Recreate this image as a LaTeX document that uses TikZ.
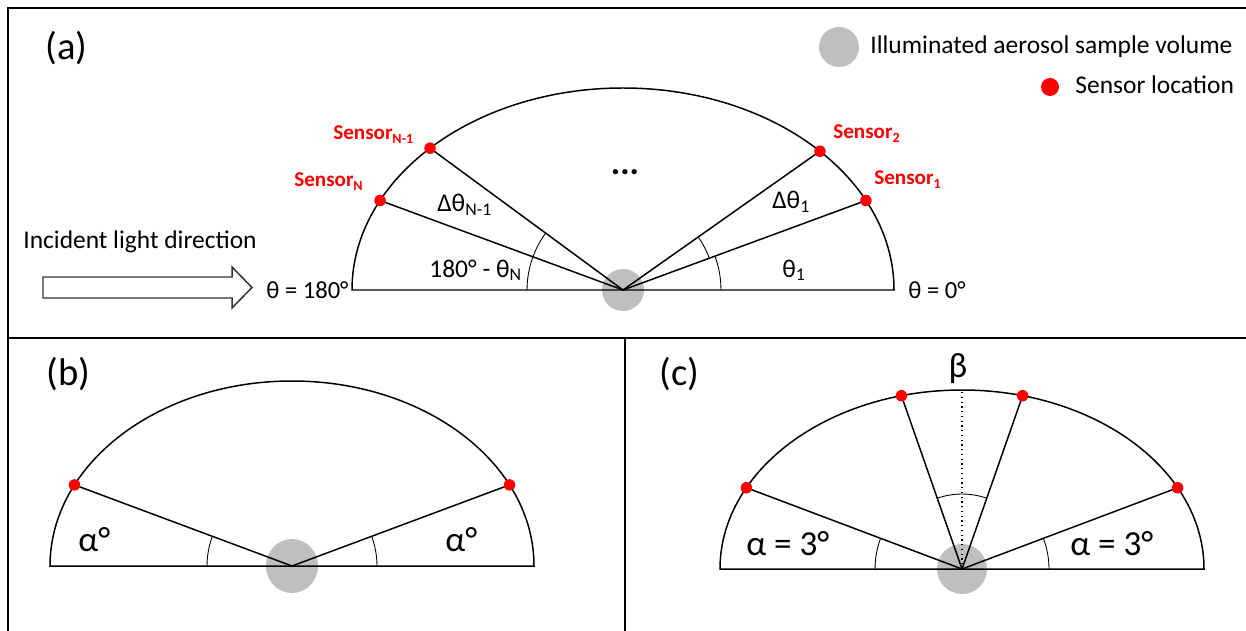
\documentclass[tikz,border=0pt]{standalone}
\usepackage{fontspec}
\setmainfont{Carlito}
\usepackage{xcolor}
\usetikzlibrary{angles}
\definecolor{spot}{HTML}{BFBFBF}
\definecolor{sens}{HTML}{FF0000}

\begin{document}
\begin{tikzpicture}[x=0.02cm, y=0.02cm, font=\fontsize{14.5}{17}\selectfont,
  frame/.style={line width=1.2pt},
  dome/.style={line width=0.85pt},
  ray/.style={line width=0.85pt},
  ang/.style={draw, line width=0.5pt},
  dot/.style={circle, fill=sens, inner sep=0pt, minimum size=0.23cm},
  txt/.style={anchor=base west, inner sep=0pt},
  tag/.style={txt, font=\fontsize{22}{26}\selectfont},
  slab/.style={txt, text=sens, font=\fontsize{12}{14}\selectfont\bfseries},
  big/.style={txt, font=\fontsize{20}{24}\selectfont}]
  \useasboundingbox (0,0) rectangle (1246,-631);
  \draw[frame] (8,-631) -- (8,-8) -- (1246,-8);
  \draw[frame] (8,-338) -- (1246,-338);
  \draw[frame] (625,-338) -- (625,-631);

  % (a) general layout with N sensors
  \node[tag] (taga) at (45,-60) {(a)};
  \node[txt] (inc) at (23,-249) {Incident light direction};
  \draw[black!80, line width=0.85pt] (43,-277) -- (232,-277) -- (232,-267) -- (252,-287.5)
    -- (232,-308) -- (232,-298) -- (43,-298) -- cycle;
  \node[txt, font=\fontsize{14}{17}\selectfont] (t180) at (266,-298) {θ = 180°};
  \node[txt, font=\fontsize{14}{17}\selectfont] (t0) at (908,-298) {θ = 0°};
  \fill[spot] (839,-47) circle[radius=20];
  \node[txt] (lvol) at (870,-54) {Illuminated aerosol sample volume};
  \fill[sens] (1050,-87) circle[radius=9];
  \node[txt] (lsen) at (1075,-94) {Sensor location};
  \begin{scope}[shift={(623,-290)}]
    \coordinate (ca) at (0,0);
    \coordinate (aR) at (271,0);
    \coordinate (aL) at (-271,0);
    \coordinate (a1) at (26.3:271 and 202);
    \coordinate (a2) at (43.4:271 and 202);
    \coordinate (aN1) at (135.4:271 and 202);
    \coordinate (aN) at (153.7:271 and 202);
    \fill[spot] (ca) circle[radius=21];
    \draw[dome] (aL) arc[start angle=180, end angle=0, x radius=271, y radius=202] -- cycle;
    \foreach \s in {a1, a2, aN1, aN} \draw[ray] (ca) -- (\s);
    \pic[ang, angle radius=1.96cm] {angle=aR--ca--a1};
    \pic[ang, angle radius=1.84cm] {angle=a1--ca--a2};
    \pic[ang, angle radius=1.92cm] {angle=aN1--ca--aN};
    \pic[ang, angle radius=1.92cm] {angle=aN--ca--aL};
    \foreach \s in {a1, a2, aN1, aN} \node[dot] at (\s) {};
  \end{scope}
  \node[slab] (sa1) at (874,-185) {Sensor\textsubscript{1}};
  \node[slab] (sa2) at (833,-139) {Sensor\textsubscript{2}};
  \node[slab] (saN1) at (333,-140) {Sensor\textsubscript{N-1}};
  \node[slab] (saN) at (294,-187) {Sensor\textsubscript{N}};
  \node[font=\fontsize{20}{20}\selectfont\bfseries] (more) at (625,-172) {...};
  \node[txt] (d1) at (772,-209) {Δθ\textsubscript{1}};
  \node[txt] (th1) at (782,-277) {θ\textsubscript{1}};
  \node[txt] (dN) at (437,-212) {Δθ\textsubscript{N-1}};
  \node[txt] (thN) at (429,-277) {180° - θ\textsubscript{N}};

  % (b) two symmetric sensors
  \node[tag] (tagb) at (46,-385) {(b)};
  \begin{scope}[shift={(292,-566)}]
    \coordinate (cb) at (0,0);
    \coordinate (bR) at (242,0);
    \coordinate (bL) at (-242,0);
    \coordinate (b1) at (26:242 and 185);
    \coordinate (b2) at (154:242 and 185);
    \fill[spot] (cb) ellipse[x radius=26, y radius=27];
    \draw[dome] (bL) arc[start angle=180, end angle=0, x radius=242, y radius=185] -- cycle;
    \foreach \s in {b1, b2} \draw[ray] (cb) -- (\s);
    \pic[ang, angle radius=1.7cm] {angle=bR--cb--b1};
    \pic[ang, angle radius=1.7cm] {angle=b2--cb--bL};
    \foreach \s in {b1, b2} \node[dot] at (\s) {};
  \end{scope}
  \node[big] (ab1) at (78,-551) {α°};
  \node[big] (ab2) at (445,-551) {α°};

  % (c) four sensors
  \node[tag] (tagc) at (659,-385) {(c)};
  \begin{scope}[shift={(962,-569)}]
    \coordinate (cc) at (0,0);
    \coordinate (cR) at (242,0);
    \coordinate (cL) at (-242,0);
    \coordinate (cT) at (0,179);
    \coordinate (c1) at (27:242 and 179);
    \coordinate (c2) at (75.5:242 and 179);
    \coordinate (c3) at (104.5:242 and 179);
    \coordinate (c4) at (153:242 and 179);
    \fill[spot] (cc) circle[radius=25];
    \draw[dome] (cL) arc[start angle=180, end angle=0, x radius=242, y radius=179] -- cycle;
    \draw[dotted, line width=0.7pt] (cc) -- (cT);
    \foreach \s in {c1, c2, c3, c4} \draw[ray] (cc) -- (\s);
    \pic[ang, angle radius=1.74cm] {angle=cR--cc--c1};
    \pic[ang, angle radius=1.74cm] {angle=c4--cc--cL};
    \pic[ang, angle radius=1.5cm] {angle=c2--cc--c3};
    \foreach \s in {c1, c2, c3, c4} \node[dot] at (\s) {};
  \end{scope}
  \node[big, anchor=base] (beta) at (958,-377) {β};
  \node[big] (ac1) at (746,-555) {α = 3°};
  \node[big] (ac2) at (1070,-555) {α = 3°};
\end{tikzpicture}
\end{document}
